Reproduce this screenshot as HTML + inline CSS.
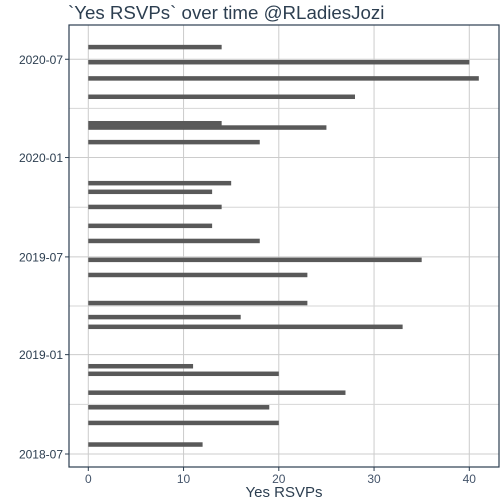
<!DOCTYPE html>
<html><head><meta charset="utf-8"><style>
html,body{margin:0;padding:0;background:#fff;}
svg{display:block;font-family:"Liberation Sans",sans-serif;}
</style></head><body>
<svg id="chart" width="504" height="504">
<text x="68" y="19" font-size="18.7" fill="#2c3e50">`Yes RSVPs` over time @RLadiesJozi</text>
<g id="grid"></g><g id="bars"></g><g id="axes"></g>
<text x="284" y="497" font-size="15" fill="#2c3e50" text-anchor="middle">Yes RSVPs</text>
</svg>
<script>
const dates = ["2020-07-24","2020-06-26","2020-05-27","2020-04-23","2020-03-05","2020-02-26","2020-01-30","2019-11-15","2019-10-30","2019-10-02","2019-08-28","2019-07-31","2019-06-26","2019-05-29","2019-04-07","2019-03-12","2019-02-22","2018-12-11","2018-11-27","2018-10-23","2018-09-26","2018-08-28","2018-07-19"];
const rsvps = [14,40,41,28,14,25,18,15,13,14,13,18,35,23,23,16,33,11,20,27,19,20,12];
const xTicks = [0,10,20,30,40];
const yTickLabels = ["2018-07","2019-01","2019-07","2020-01","2020-07"];
const yMinorDates = ["2018-10-01","2019-04-01","2019-10-01","2020-04-01"];

const NS="http://www.w3.org/2000/svg";
const L=69,R=499,T=25,B=467;
const X0=88.3,XS=9.525;
const x=v=>X0+v*XS;
const base=Date.UTC(2018,6,1);
const dayOf=s=>{const p=s.split("-").map(Number);return (Date.UTC(p[0],p[1]-1,p[2]||1)-base)/864e5;};
const y=s=>454-dayOf(s)*0.540;
function mk(tag,attrs,parent){const e=document.createElementNS(NS,tag);for(const k in attrs)e.setAttribute(k,attrs[k]);parent.appendChild(e);return e;}
const grid=document.getElementById("grid"),bars=document.getElementById("bars"),axes=document.getElementById("axes");
mk("rect",{x:L,y:T,width:R-L,height:B-T,fill:"#fff"},grid);
for(let i=0;i<xTicks.length;i++){
  const g=mk("line",{x1:x(xTicks[i]),x2:x(xTicks[i]),y1:T,y2:B,stroke:"#cccccc","stroke-width":1},grid);
  
  
}
yMinorDates.forEach(d=>{
  const g=mk("line",{x1:L,x2:R,y1:y(d),y2:y(d),stroke:"#d6d6d6","stroke-width":1},grid);
  
  
});
yTickLabels.forEach(d=>{
  const yy=y(d);
  const g=mk("line",{x1:L,x2:R,y1:yy,y2:yy,stroke:"#cccccc","stroke-width":1},grid);
  
  
  const t=mk("line",{x1:65,x2:L,y1:yy,y2:yy,stroke:"#2c3e50"},axes);
  
  
  const tx=mk("text",{x:63,y:yy+4.5,"font-size":12,fill:"#2c3e50","text-anchor":"end"},axes);
  tx.textContent=d;
  
  
});
xTicks.forEach(v=>{
  const t=mk("line",{x1:x(v),x2:x(v),y1:B,y2:B+4,stroke:"#2c3e50"},axes);
  
  
  const tx=mk("text",{x:x(v),y:B+16,"font-size":12,fill:"#44546a","text-anchor":"middle"},axes);
  tx.textContent=v;
  
  
});
dates.forEach((d,i)=>{
  const r=mk("rect",{x:x(0),y:y(d)-2,width:x(rsvps[i])-x(0),height:4.5,fill:"#595959"},bars);
  
  
});
const f=mk("rect",{x:L,y:T,width:R-L,height:B-T,fill:"none",stroke:"#2c3e50","stroke-width":1.2},axes);


</script>
</body></html>
